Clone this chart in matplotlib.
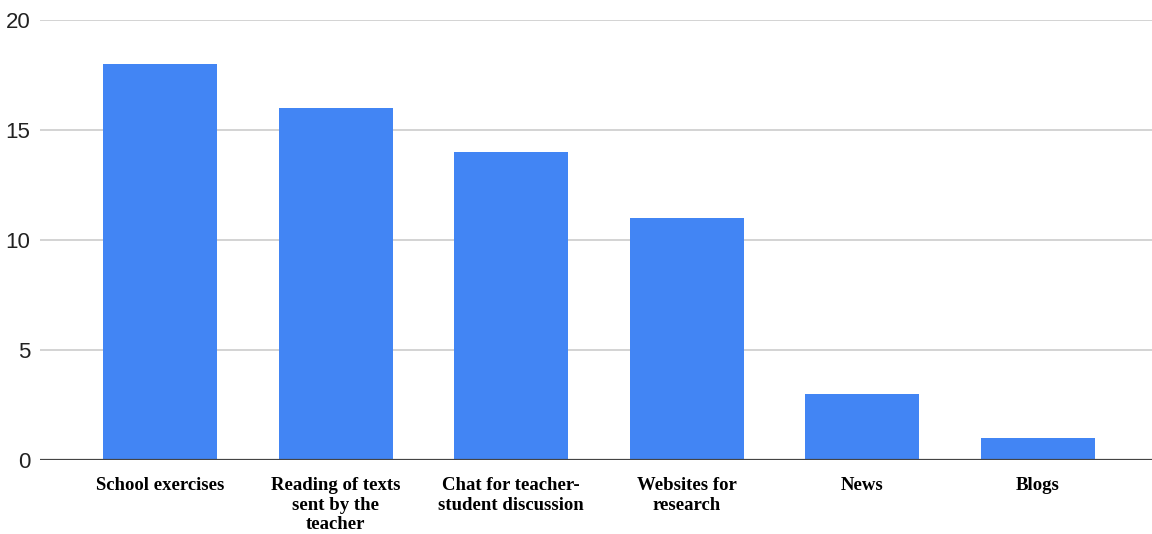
import matplotlib.pyplot as plt

# survey counts per activity
categories = ["School exercises", "Reading of texts\nsent by the\nteacher",
              "Chat for teacher-\nstudent discussion", "Websites for\nresearch",
              "News", "Blogs"]
counts = [18, 16, 14, 11, 3, 1]
yticks = [0, 5, 10, 15, 20]

fig = plt.figure(figsize=(11.52, 5.34), dpi=100)
ax = fig.add_axes([40 / 1152, 1 - 460 / 534, 1 - 40 / 1152, (460 - 20) / 534])

x = range(len(categories))
ax.bar(x, counts, width=0.65, color="#4285F4", zorder=3)

ax.set_xlim(-0.684, 5.65)
ax.set_ylim(0, 20)
ax.set_yticks(yticks)
ax.yaxis.grid(True, color="#cccccc", linewidth=1.2, zorder=0)
ax.axhline(0, color="#444444", linewidth=1.6, zorder=4)

for s in ax.spines.values():
    s.set_visible(False)

ax.tick_params(axis="y", length=0, pad=7, labelsize=16, labelcolor="#222222")
for lbl in ax.get_yticklabels():
    lbl.set_family("Liberation Sans")

ax.set_xticks(list(x))
ax.set_xticklabels(categories, family="Liberation Serif", fontweight="bold",
                   fontsize=13.5, linespacing=1.22, va="top")
ax.tick_params(axis="x", length=0, pad=12)

fig.savefig("out.png", dpi=100, facecolor="white")
